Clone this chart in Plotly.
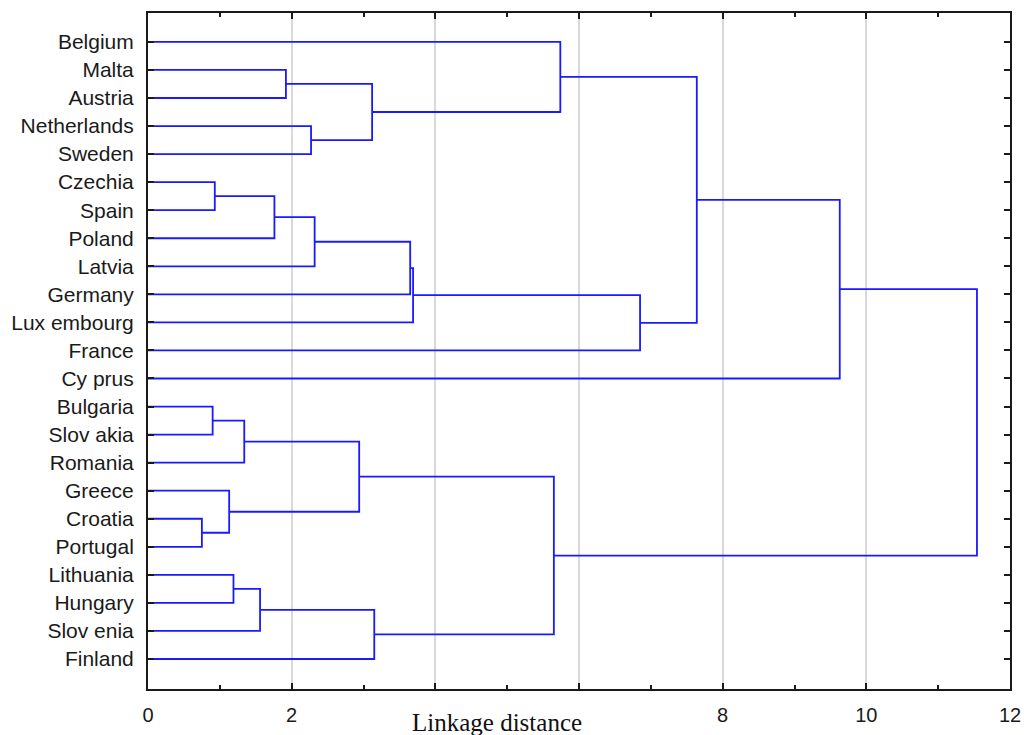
import plotly.graph_objects as go

# ---- data ----
leaves = ["Belgium", "Malta", "Austria", "Netherlands", "Sweden", "Czechia", "Spain",
          "Poland", "Latvia", "Germany", "Lux embourg", "France", "Cy prus", "Bulgaria",
          "Slov akia", "Romania", "Greece", "Croatia", "Portugal", "Lithuania", "Hungary",
          "Slov enia", "Finland"]

merge_left = ["Malta", "Netherlands", "C1", "Belgium", "Czechia", "C5", "C6", "C7", "C8",
              "C9", "C4", "C11", "Bulgaria", "C13", "Croatia", "Greece", "C14", "Lithuania",
              "C18", "C19", "C17", "C12"]
merge_right = ["Austria", "Sweden", "C2", "C3", "Spain", "Poland", "Latvia", "Germany",
               "Lux embourg", "France", "C10", "Cy prus", "Slov akia", "Romania", "Portugal",
               "C15", "C16", "Hungary", "Slov enia", "Finland", "C20", "C21"]
merge_height = [1.92, 2.27, 3.12, 5.74, 0.93, 1.76, 2.32, 3.65, 3.69, 6.85, 7.64, 9.63,
                0.90, 1.34, 0.75, 1.13, 2.94, 1.19, 1.56, 3.15, 5.65, 11.54]

x_tickvals = [0, 2, 4, 6, 8, 10, 12]
x_ticktext = ["0", "2", "", "", "8", "10", "12"]

# ---- build dendrogram segments ----
pos = {name: i + 1 for i, name in enumerate(leaves)}
hgt = {name: 0.0 for name in leaves}
xs, ys = [], []
for k, (a, b, h) in enumerate(zip(merge_left, merge_right, merge_height)):
    ya, yb = pos[a], pos[b]
    xs += [hgt[a], h, h, hgt[b], None]
    ys += [ya, ya, yb, yb, None]
    cname = "C%d" % (k + 1)
    pos[cname] = (ya + yb) / 2
    hgt[cname] = h

fig = go.Figure()
fig.add_trace(go.Scatter(x=xs, y=ys, mode="lines",
                         line=dict(color="#1a1aff", width=1.8),
                         hoverinfo="skip", showlegend=False))

fig.update_layout(
    width=1024, height=735,
    margin=dict(l=148, r=14, t=13, b=46),
    paper_bgcolor="white", plot_bgcolor="white",
    font=dict(family="Liberation Sans, Arial", color="#1a1a1a"),
)
fig.update_xaxes(
    range=[0, 12], tickvals=x_tickvals, ticktext=x_ticktext, automargin=False,
    showgrid=True, gridcolor="#d9d9d9", gridwidth=1.5, zeroline=False,
    showline=True, linecolor="#1a1a1a", linewidth=2, mirror="ticks",
    ticks="inside", ticklen=6, tickwidth=2, tickcolor="#1a1a1a",
    minor=dict(ticks="inside", dtick=1, tick0=0, ticklen=4, tickwidth=2,
               tickcolor="#1a1a1a", showgrid=False),
    tickfont=dict(size=20), ticklabelstandoff=7,
)
fig.update_yaxes(
    range=[24.07, -0.03], tickvals=list(range(1, len(leaves) + 1)), ticktext=leaves,
    automargin=False,
    showgrid=False, zeroline=False,
    showline=True, linecolor="#1a1a1a", linewidth=2, mirror="ticks",
    ticks="inside", ticklen=6, tickwidth=2, tickcolor="#1a1a1a",
    tickfont=dict(size=21), ticklabelstandoff=8,
)
fig.add_annotation(text="Linkage distance", xref="paper", yref="paper",
                   x=0.405, y=0, xanchor="center", yanchor="middle", yshift=-33,
                   showarrow=False,
                   font=dict(family="Liberation Serif, Times New Roman", size=25,
                             color="#111"))

fig.write_html("out.html")
